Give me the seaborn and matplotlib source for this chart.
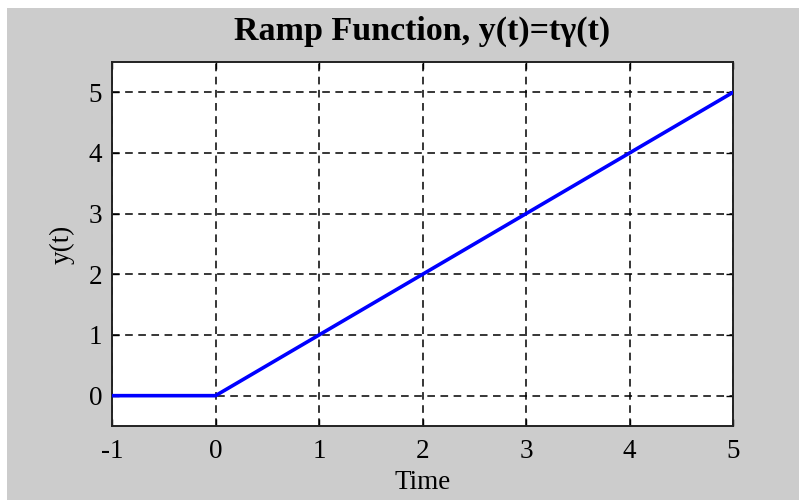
import matplotlib
matplotlib.use("Agg")
import matplotlib.pyplot as plt
import seaborn as sns
import pandas as pd
from matplotlib.patches import Rectangle

t_values = [-1, 0, 5]
y_values = [0, 0, 5]
x_ticks = [-1, 0, 1, 2, 3, 4, 5]
y_ticks = [0, 1, 2, 3, 4, 5]
title = "Ramp Function, y(t)=tγ(t)"
xlabel = "Time"
ylabel = "y(t)"

sns.set_style("white")
plt.rcParams['font.family'] = ['Liberation Serif', 'DejaVu Serif']
plt.rcParams['text.color'] = 'black'
plt.rcParams['axes.labelcolor'] = 'black'

df = pd.DataFrame({"t": t_values, "y": y_values})

fig = plt.figure(figsize=(7.99, 5.0), dpi=100)
fig.patch.set_facecolor("white")
fig.patches.append(Rectangle((7/799, 0), 1 - 7/799, 1 - 8/500, transform=fig.transFigure,
                             facecolor="#cccccc", edgecolor="none", zorder=-10))
ax = fig.add_axes([112/799, 74/500, (733-112)/799, (426-62)/500])
ax.set_zorder(1)
ax.set_facecolor("white")

sns.lineplot(data=df, x="t", y="y", ax=ax, color="#0000ff", linewidth=2.6, zorder=3)

ax.set_xlim(-1, 5)
ax.set_ylim(-0.5, 5.5)
ax.set_xticks(x_ticks)
ax.set_yticks(y_ticks)
ax.set_xticklabels([str(v) for v in x_ticks])
ax.set_yticklabels([str(v) for v in y_ticks])
ax.grid(True, color="black", linestyle=(0, (5, 3.6)), linewidth=1.1)
ax.tick_params(direction="in", length=5, width=1, colors="black", labelsize=19.5,
               top=True, right=True, bottom=True, left=True, pad=7)
ax.tick_params(axis="x", pad=9)
for s in ax.spines.values():
    s.set_color("#222222")
    s.set_linewidth(1.4)
    s.set_visible(True)

ax.set_title(title, fontsize=24.5, fontweight="bold", pad=16, color="black")
ax.set_xlabel(xlabel, fontsize=19.5, labelpad=5)
ax.set_ylabel(ylabel, fontsize=19.5, labelpad=10)

fig.savefig("out.png", dpi=100, facecolor=fig.get_facecolor())
